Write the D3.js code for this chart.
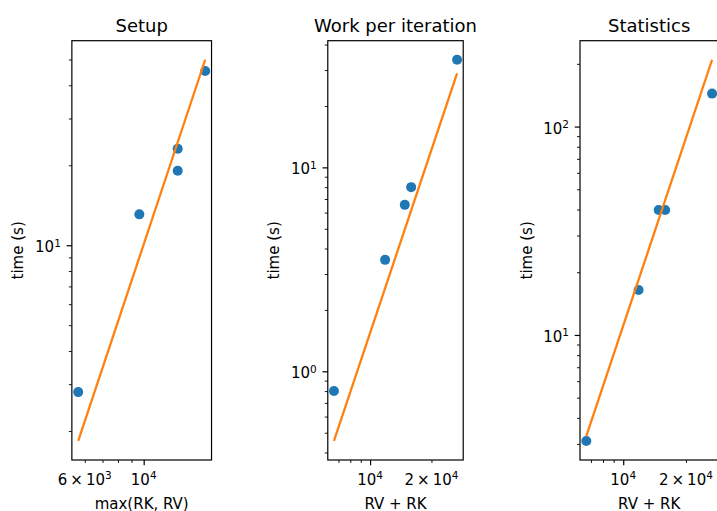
<!DOCTYPE html>
<html><head><meta charset="utf-8">
<script src="https://cdn.jsdelivr.net/npm/d3@7"></script>
<style>body{margin:0;background:#fff} svg text{font-family:"DejaVu Sans",sans-serif;fill:#000}</style>
</head><body><svg id="c" width="717" height="511"></svg>
<script>
// ---- data ----
const titles = ["Setup", "Work per iteration", "Statistics"];
const xLabels = ["max(RK, RV)", "RV + RK", "RV + RK"];
const yLabel = "time (s)";
const setupX = [5670, 9630, 13430, 13430, 17040];
const setupT = [2.80, 13.07, 19.07, 23.07, 45.25];
const rvrkX = [6650, 11850, 14800, 15900, 26700];
const workT = [0.80, 3.52, 6.55, 8.00, 33.7];
const statsT = [3.10, 16.42, 39.8, 39.8, 143.9];
const fitX = [[5670, 17040], [6650, 26700], [6650, 26700]];
const fitT = [[1.834, 49.9], [0.4556, 28.9], [3.27, 209.2]];
const xTickLabels = [[6000, 10000], [10000, 20000], [10000, 20000]];
const yTickLabels = [[10], [1, 10], [10, 100]];

const panels = [
  {x: setupX, t: setupT},
  {x: rvrkX, t: workT},
  {x: rvrkX, t: statsT}
];

// ---- layout ----
const axTop = 40.7, axBottom = 460;
const centers = [141.7, 395.5, 649.2];
const blue = "#1f77b4", orange = "#ff7f0e";
const svg = d3.select("#c");

function logDomain(vals) {
  const l = vals.map(Math.log10);
  const mn = d3.min(l), mx = d3.max(l), m = (mx - mn) * 0.05;
  return [Math.pow(10, mn - m), Math.pow(10, mx + m)];
}
function logTicks(dom) {
  const a = Math.floor(Math.log10(dom[0])), b = Math.ceil(Math.log10(dom[1]));
  const maj = [], min = [];
  for (let k = a; k <= b; k++) for (let m = 1; m < 10; m++) {
    const v = m * Math.pow(10, k);
    if (v >= dom[0] && v <= dom[1]) (m === 1 ? maj : min).push(v);
  }
  return {maj, min};
}
function mathLabel(sel, v) {
  const k = Math.floor(Math.log10(v) + 1e-9);
  const m = Math.round(v / Math.pow(10, k));
  if (m !== 1) sel.append("tspan").text(m + "\u2009\u00d7\u2009");
  sel.append("tspan").text("10");
  sel.append("tspan").attr("font-size", "10.5px").attr("dy", -5.5).text(k);
}

panels.forEach((p, i) => {
  const xDom = logDomain(p.x.concat(fitX[i]));
  const yDom = logDomain(p.t.concat(fitT[i]));
  const ppd = (axBottom - axTop) / (Math.log10(yDom[1]) - Math.log10(yDom[0]));
  const w = (Math.log10(xDom[1]) - Math.log10(xDom[0])) * ppd;
  const left = centers[i] - w / 2;
  const x = d3.scaleLog().domain(xDom).range([left, left + w]);
  const y = d3.scaleLog().domain(yDom).range([axBottom, axTop]);
  const g = svg.append("g");

  const xt = logTicks(xDom), yt = logTicks(yDom);
  const tickStyle = (sw) => (s) => { s.select(".domain").remove(); s.selectAll("line").attr("stroke", "#000").attr("stroke-width", sw); s.selectAll("text").remove(); };
  g.append("g").attr("transform", `translate(0,${axBottom})`)
    .call(d3.axisBottom(x).tickValues(xt.min).tickSize(3).tickFormat(() => "")).call(tickStyle(0.9));
  g.append("g").attr("transform", `translate(0,${axBottom})`)
    .call(d3.axisBottom(x).tickValues(xt.maj).tickSize(5.25).tickFormat(() => "")).call(tickStyle(1.2));
  g.append("g").attr("transform", `translate(${left},0)`)
    .call(d3.axisLeft(y).tickValues(yt.min).tickSize(3).tickFormat(() => "")).call(tickStyle(0.9));
  g.append("g").attr("transform", `translate(${left},0)`)
    .call(d3.axisLeft(y).tickValues(yt.maj).tickSize(5.25).tickFormat(() => "")).call(tickStyle(1.2));

  xTickLabels[i].forEach(v => {
    const t = g.append("text").attr("x", x(v)).attr("y", axBottom + 24.5)
      .attr("text-anchor", "middle").attr("font-size", "15px");
    mathLabel(t, v);
  });
  yTickLabels[i].forEach(v => {
    const t = g.append("text").attr("x", left - 11).attr("y", y(v) + 7)
      .attr("text-anchor", "end").attr("font-size", "15px");
    mathLabel(t, v);
  });

  // scatter points
  g.selectAll("circle").data(p.x.map((d, j) => [d, p.t[j]])).join("circle")
    .attr("cx", d => x(d[0])).attr("cy", d => y(d[1])).attr("r", 5).attr("fill", blue);

  // fit line
  const line = d3.line().x(d => x(d[0])).y(d => y(d[1]));
  g.append("path").datum(fitX[i].map((d, j) => [d, fitT[i][j]]))
    .attr("d", line).attr("fill", "none").attr("stroke", orange).attr("stroke-width", 2.25);

  // spines
  g.append("rect").attr("x", left).attr("y", axTop).attr("width", w).attr("height", axBottom - axTop)
    .attr("fill", "none").attr("stroke", "#000").attr("stroke-width", 1.2);

  // title and labels
  g.append("text").attr("x", left + w / 2).attr("y", 31.7).attr("text-anchor", "middle")
    .attr("font-size", "18px").text(titles[i]);
  g.append("text").attr("x", left + w / 2).attr("y", 508.5).attr("text-anchor", "middle")
    .attr("font-size", "15px").text(xLabels[i]);
  g.append("text").attr("transform", `translate(${left - 48.4},${(axTop + axBottom) / 2}) rotate(-90)`)
    .attr("text-anchor", "middle").attr("font-size", "15px").text(yLabel);
});
</script></body></html>
